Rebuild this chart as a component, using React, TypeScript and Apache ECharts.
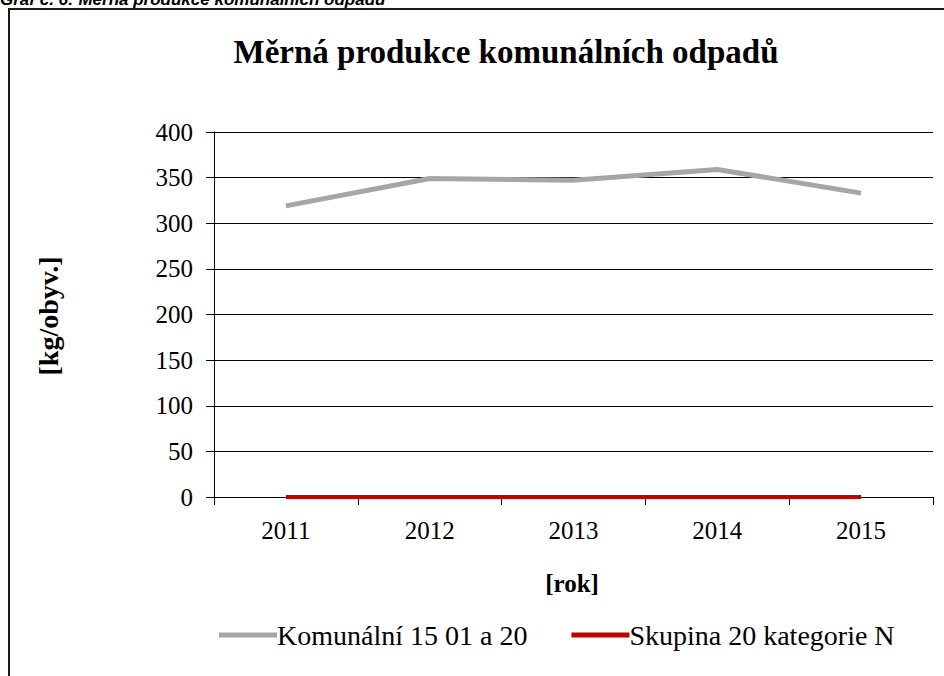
import React, { useEffect, useRef } from "react";
import * as echarts from "echarts";

const years = ["2011", "2012", "2013", "2014", "2015"];
const komunalni = [319, 349, 347, 359, 333];
const skupina20 = [0, 0, 0, 0, 0];
const seriesNames = ["Komunální 15 01 a 20", "Skupina 20 kategorie N"];
const chartTitle = "Měrná produkce komunálních odpadů";
const headerText = "Graf č. 6: Měrná produkce komunálních odpadů";
const yName = "[kg/obyv.]";
const xName = "[rok]";

const SERIF = "'Liberation Serif', 'Times New Roman', serif";

export default function App() {
  const ref = useRef<HTMLDivElement>(null);
  useEffect(() => {
    document.body.style.margin = "0";
    const chart = echarts.init(ref.current!, null, { renderer: "svg" });
    chart.setOption({
      animation: false,
      backgroundColor: "#fff",
      grid: { left: 214, right: 11, top: 132, bottom: 179, containLabel: false },
      legend: {
        data: seriesNames.map((n) => ({ name: n, icon: "rect" })),
        left: 214,
        top: 616,
        itemWidth: 58,
        itemHeight: 5,
        itemGap: 44,
        textStyle: { fontFamily: SERIF, fontSize: 28, color: "#000", padding: [0, 0, 0, -5] },
      },
      xAxis: {
        type: "category",
        data: years,
        boundaryGap: true,
        axisLine: { lineStyle: { color: "#000", width: 1 } },
        axisTick: { show: true, length: 8, interval: 0, lineStyle: { color: "#000" } },
        axisLabel: { fontFamily: SERIF, fontSize: 25, color: "#000", margin: 21 },
      },
      yAxis: {
        type: "value",
        min: 0,
        max: 400,
        interval: 50,
        axisLine: { show: true, lineStyle: { color: "#000", width: 1 } },
        axisTick: { show: true, length: 8, lineStyle: { color: "#000" } },
        axisLabel: { fontFamily: SERIF, fontSize: 25, color: "#000", margin: 21 },
        splitLine: { show: true, lineStyle: { color: "#000", width: 1 } },
      },
      series: [
        {
          name: seriesNames[0],
          type: "line",
          data: komunalni,
          symbol: "none",
          lineStyle: { color: "#A6A6A6", width: 5 },
          itemStyle: { color: "#A6A6A6" },
          z: 3,
        },
        {
          name: seriesNames[1],
          type: "line",
          data: skupina20,
          symbol: "none",
          lineStyle: { color: "#C00000", width: 4 },
          itemStyle: { color: "#C00000" },
          z: 4,
        },
      ],
      graphic: [
        {
          type: "rect",
          shape: { x: 9, y: 9, width: 1000, height: 1000 },
          style: { fill: "none", stroke: "#1a1a1a", lineWidth: 2 },
          silent: true,
        },
        {
          type: "text",
          x: 0,
          y: -9,
          style: {
            text: headerText,
            font: "italic bold 17px 'Liberation Sans', Arial, sans-serif",
            fill: "#000",
            textVerticalAlign: "top",
          },
        },
        {
          type: "text",
          x: 506,
          y: 52,
          style: {
            text: chartTitle,
            font: `bold 33px ${SERIF}`,
            fill: "#000",
            textAlign: "center",
            textVerticalAlign: "middle",
          },
        },
        {
          type: "text",
          x: 48,
          y: 316,
          rotation: Math.PI / 2,
          style: {
            text: yName,
            font: `bold 28px ${SERIF}`,
            fill: "#000",
            textAlign: "center",
            textVerticalAlign: "middle",
          },
        },
        {
          type: "text",
          x: 572,
          y: 583,
          style: {
            text: xName,
            font: `bold 25px ${SERIF}`,
            fill: "#000",
            textAlign: "center",
            textVerticalAlign: "middle",
          },
        },
      ],
    });
    return () => chart.dispose();
  }, []);
  return <div ref={ref} style={{ width: 944, height: 676 }} />;
}
